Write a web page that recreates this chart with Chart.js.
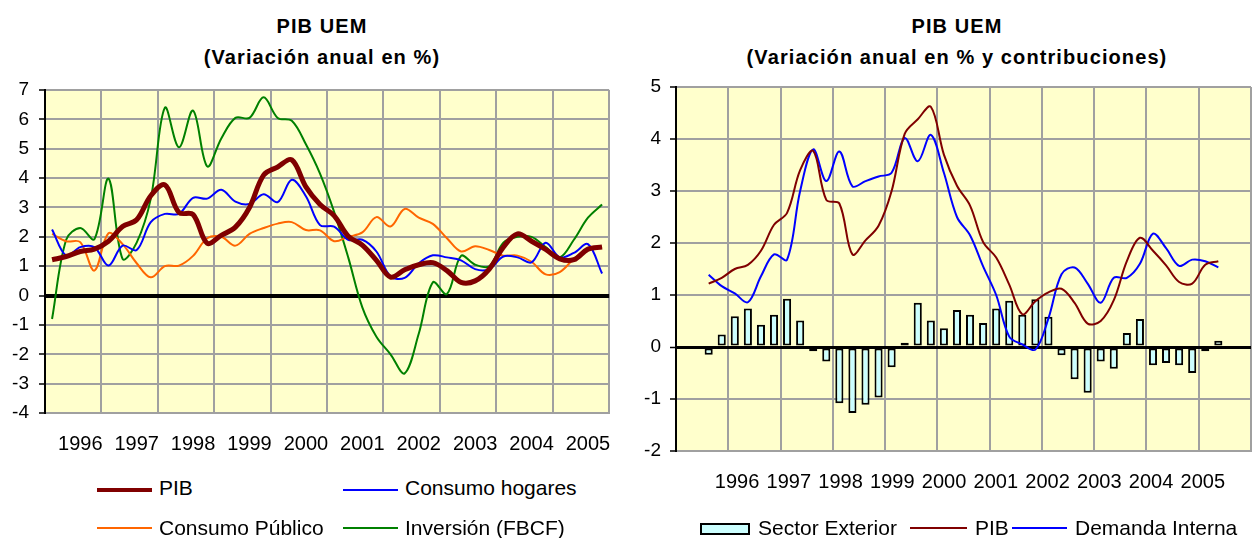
<!DOCTYPE html>
<html>
<head>
<meta charset="utf-8">
<script src="https://cdn.jsdelivr.net/npm/chart.js@4"></script>
<style>
  body { margin: 0; background: #fff; width: 1254px; height: 538px; position: relative; overflow: hidden;
         font-family: "Liberation Sans", Arial, Helvetica, sans-serif; color: #000; }
  .chart { position: absolute; top: 0; }
  .title { position: absolute; top: 11px; width: 500px; text-align: center; font-weight: bold;
           font-size: 20px; line-height: 31px; letter-spacing: 1.1px; }
  .sw { position: absolute; height: 0; }
  .lt { position: absolute; font-size: 21px; line-height: 24px; white-space: nowrap; }
</style>
</head>
<body>

<div class="title" style="left:72px">PIB UEM<br>(Variación anual en %)</div>
<div class="title" style="left:707px">PIB UEM<br>(Variación anual en % y contribuciones)</div>

<div class="chart" style="left:0;width:630px;height:470px"><canvas id="chartIzq"></canvas></div>
<div class="chart" style="left:630px;width:624px;height:538px"><canvas id="chartDer"></canvas></div>

<!-- leyenda izquierda -->
<div class="sw" style="left:97px;top:488px;width:55px;border-top:4px solid #800000"></div>
<div class="lt" style="left:159px;top:476px">PIB</div>
<div class="sw" style="left:343px;top:489px;width:55px;border-top:2px solid #0000ff"></div>
<div class="lt" style="left:405px;top:476px">Consumo hogares</div>
<div class="sw" style="left:97px;top:527px;width:55px;border-top:2px solid #ff6600"></div>
<div class="lt" style="left:159px;top:516px">Consumo Público</div>
<div class="sw" style="left:343px;top:527px;width:55px;border-top:2px solid #008000"></div>
<div class="lt" style="left:405px;top:516px">Inversión (FBCF)</div>

<!-- leyenda derecha -->
<div style="position:absolute;left:700px;top:523px;width:46px;height:8px;border:2px solid #000;background:#ccffff"></div>
<div class="lt" style="left:758px;top:516px">Sector Exterior</div>
<div class="sw" style="left:910px;top:527px;width:57px;border-top:2px solid #800000"></div>
<div class="lt" style="left:975px;top:516px">PIB</div>
<div class="sw" style="left:1012px;top:527px;width:55px;border-top:2px solid #0000ff"></div>
<div class="lt" style="left:1075px;top:516px">Demanda Interna</div>

<script>
// Datos trimestrales 1996 I - 2005 IV
const years = ['1996', '1997', '1998', '1999', '2000', '2001', '2002', '2003', '2004', '2005'];

const pib = [1.22, 1.33, 1.5, 1.58, 1.85, 2.35, 2.58, 3.4, 3.77, 2.83,
             2.76, 1.78, 2.05, 2.33, 3.0, 4.1, 4.38, 4.62, 3.7, 3.1,
             2.72, 2.02, 1.72, 1.2, 0.63, 0.88, 1.05, 1.12, 0.85, 0.45,
             0.5, 0.9, 1.65, 2.1, 1.85, 1.57, 1.25, 1.22, 1.58, 1.65];

const consumoHogares = [2.25, 1.36, 1.65, 1.65, 1.02, 1.7, 1.55, 2.5, 2.78, 2.78,
                        3.33, 3.3, 3.6, 3.2, 3.12, 3.45, 3.18, 3.94, 3.38, 2.4,
                        2.35, 1.9, 1.9, 1.5, 0.65, 0.6, 1.1, 1.37, 1.3, 1.2,
                        0.9, 0.9, 1.33, 1.3, 1.13, 1.8, 1.3, 1.45, 1.75, 0.75];

const consumoPublico = [2.1, 1.85, 1.82, 0.85, 2.12, 1.75, 1.1, 0.62, 1.0, 1.02,
                        1.35, 1.95, 2.0, 1.7, 2.1, 2.3, 2.45, 2.5, 2.23, 2.22,
                        1.85, 2.0, 2.15, 2.67, 2.35, 2.95, 2.65, 2.44, 1.95, 1.5,
                        1.68, 1.55, 1.36, 1.36, 1.15, 0.72, 0.8, 1.25, 1.6, 1.65];

const inversion = [-0.8, 1.9, 2.3, 1.92, 3.98, 1.25, 1.8, 3.3, 6.4, 5.05,
                   6.3, 4.4, 5.35, 6.05, 6.05, 6.75, 6.05, 5.95, 5.15, 4.15,
                   2.85, 1.3, -0.4, -1.4, -2.0, -2.65, -1.3, 0.45, 0.05, 1.35,
                   1.05, 1.0, 1.8, 2.0, 2.0, 1.65, 1.3, 1.9, 2.65, 3.1];

const demandaInterna = [1.39, 1.17, 1.03, 0.86, 1.36, 1.78, 1.68, 3.0, 3.8, 3.19,
                        3.76, 3.09, 3.19, 3.28, 3.35, 4.02, 3.57, 4.08, 3.35, 2.5,
                        2.15, 1.55, 1.0, 0.2, 0.05, -0.05, 0.55, 1.4, 1.53, 1.22,
                        0.85, 1.33, 1.33, 1.6, 2.18, 1.9, 1.56, 1.68, 1.65, 1.53];

const sectorExterior = [-0.15, 0.24, 0.59, 0.74, 0.43, 0.62, 0.93, 0.51, -0.08, -0.28,
                        -1.08, -1.27, -1.11, -0.97, -0.39, 0.08, 0.85, 0.51, 0.36, 0.71,
                        0.62, 0.46, 0.74, 0.89, 0.62, 0.92, 0.58, -0.16, -0.62, -0.88,
                        -0.28, -0.42, 0.27, 0.54, -0.35, -0.31, -0.35, -0.5, -0.08, 0.12];

const gridGray = '#a0a0a0';
Chart.defaults.font.family = '"Liberation Sans", Arial, Helvetica, sans-serif';
Chart.defaults.color = '#000';

// fondo amarillo del area de trazado
const plotBg = {
    id: 'plotBg',
    beforeDraw(chart) {
        const { ctx, chartArea: a } = chart;
        ctx.save();
        ctx.fillStyle = '#ffffcc';
        ctx.fillRect(a.left, a.top, a.width, a.height);
        ctx.restore();
    }
};

const toPoints = arr => arr.map((v, i) => ({ x: i, y: v }));

// eje x: rejilla por años + etiquetas de año
function xScales(bottomGap) {
    return {
        x: {
            type: 'linear', min: -0.5, max: 39.5,
            afterBuildTicks: s => { s.ticks = years.map((_, k) => ({ value: 4 * k - 0.5 })).concat([{ value: 39.5 }]); },
            afterFit: s => { s.height = 0; },
            ticks: { display: false },
            grid: {
                drawTicks: false,
                color: c => c.index === 0 ? 'rgba(0,0,0,0)' : gridGray,
                lineWidth: 2
            },
            border: { color: gridGray, width: 2 }
        },
        years: {
            type: 'linear', position: 'bottom', min: -0.5, max: 39.5,
            afterBuildTicks: s => { s.ticks = years.map((_, k) => ({ value: 4 * k + 2 })); },
            afterFit: s => { s.height = bottomGap; },
            ticks: {
                autoSkip: false, maxRotation: 0, padding: 19,
                font: { size: 20 },
                callback: (v, i) => years[i]
            },
            grid: { display: false, drawTicks: false },
            border: { display: false }
        }
    };
}

function yScale(min, max, width, zeroWidth, pad) {
    return {
        min: min, max: max,
        afterFit: s => { s.width = width; },
        ticks: { stepSize: 1, padding: pad, font: { size: 19 } },
        grid: {
            color: c => (c.tick && c.tick.value === 0) ? '#000' : gridGray,
            lineWidth: c => (c.tick && c.tick.value === 0) ? zeroWidth : 2,
            tickColor: '#000', tickLength: 6, tickWidth: 1.5
        },
        border: { color: '#000', width: 2 }
    };
}

const commonOpts = {
    responsive: true,
    maintainAspectRatio: false,
    animation: false,
    elements: { point: { radius: 0 }, line: { tension: 0.35, fill: false } },
    plugins: { legend: { display: false }, tooltip: { enabled: false } }
};

// Grafico izquierdo
new Chart(document.getElementById('chartIzq'), {
    type: 'line',
    data: {
        datasets: [
            { label: 'PIB', data: toPoints(pib), borderColor: '#800000', borderWidth: 5 },
            { label: 'Consumo hogares', data: toPoints(consumoHogares), borderColor: '#0000ff', borderWidth: 2 },
            { label: 'Consumo Público', data: toPoints(consumoPublico), borderColor: '#ff6600', borderWidth: 2 },
            { label: 'Inversión (FBCF)', data: toPoints(inversion), borderColor: '#008000', borderWidth: 2 }
        ]
    },
    options: {
        ...commonOpts,
        layout: { padding: { top: 90, right: 10, left: 0, bottom: 0 } },
        scales: { ...xScales(57), y: yScale(-4, 7, 45, 4, 10) }
    },
    plugins: [plotBg]
});

// Grafico derecho
new Chart(document.getElementById('chartDer'), {
    type: 'bar',
    data: {
        datasets: [
            { type: 'line', label: 'PIB', data: toPoints(pib), borderColor: '#800000', borderWidth: 2, order: 1 },
            { type: 'line', label: 'Demanda Interna', data: toPoints(demandaInterna), borderColor: '#0000ff', borderWidth: 2, order: 1 },
            {
                type: 'bar', label: 'Sector Exterior', data: toPoints(sectorExterior),
                backgroundColor: '#ccffff', borderColor: '#000', borderWidth: 2, borderSkipped: false,
                barPercentage: 0.62, categoryPercentage: 1, order: 2
            }
        ]
    },
    options: {
        ...commonOpts,
        layout: { padding: { top: 87, right: 3, left: 0, bottom: 0 } },
        scales: { ...xScales(87), y: yScale(-2, 5, 46, 3, 9) }
    },
    plugins: [plotBg]
});
</script>
</body>
</html>
